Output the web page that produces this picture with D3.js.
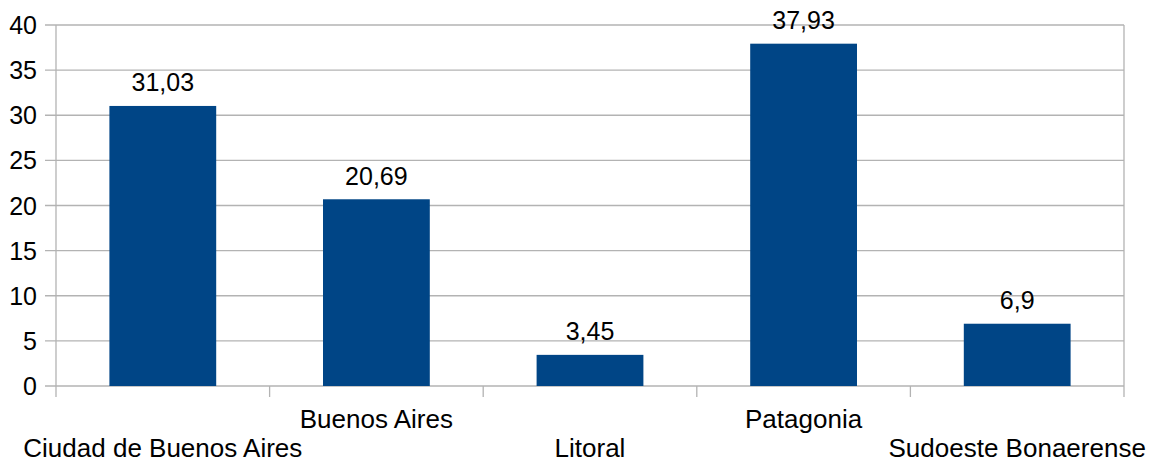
<!DOCTYPE html>
<html>
<head>
<meta charset="utf-8">
<script src="https://cdn.jsdelivr.net/npm/d3@7"></script>
<style>
  html, body { margin: 0; padding: 0; background: #fff; }
  svg text { font-family: "Liberation Sans", Arial, sans-serif; fill: #000; }
</style>
</head>
<body>
<svg id="chart" width="1149" height="463"></svg>
<script>
const categories = ["Ciudad de Buenos Aires", "Buenos Aires", "Litoral", "Patagonia", "Sudoeste Bonaerense"];
const values = [31.03, 20.69, 3.45, 37.93, 6.9];
const valueLabels = ["31,03", "20,69", "3,45", "37,93", "6,9"];
const yTicks = [0, 5, 10, 15, 20, 25, 30, 35, 40];

(function () {
const svg = d3.select("#chart");
const mLeft = 56, mRight = 1124, mTop = 25, mBottom = 386;
const fontSize = 25;
const catFontSize = 26;

const x = d3.scaleBand().domain(categories).range([mLeft, mRight]).paddingInner(0.5).paddingOuter(0.25);
const xb = d3.scaleBand().domain(categories).range([mLeft, mRight]).padding(0);
const y = d3.scaleLinear().domain([0, 40]).range([mBottom, mTop]);

// gridlines
svg.append("g").selectAll("line").data(yTicks).join("line")
  .attr("x1", mLeft - 11).attr("x2", mRight)
  .attr("y1", d => y(d)).attr("y2", d => y(d))
  .attr("stroke", "#b3b3b3").attr("stroke-width", 1.3);

// left axis line
svg.append("line").attr("x1", mLeft).attr("x2", mLeft).attr("y1", mTop).attr("y2", mBottom + 11)
  .attr("stroke", "#b3b3b3").attr("stroke-width", 1.3);
// right border
svg.append("line").attr("x1", mRight).attr("x2", mRight).attr("y1", mTop).attr("y2", mBottom + 11)
  .attr("stroke", "#b3b3b3").attr("stroke-width", 1.3);

// category ticks
svg.append("g").selectAll("line").data(categories.slice(1)).join("line")
  .attr("x1", d => xb(d)).attr("x2", d => xb(d))
  .attr("y1", mBottom).attr("y2", mBottom + 11)
  .attr("stroke", "#b3b3b3").attr("stroke-width", 1.3);

// y tick labels
svg.append("g").selectAll("text").data(yTicks).join("text")
  .attr("x", 37).attr("y", d => y(d))
  .attr("dy", "0.36em")
  .attr("text-anchor", "end")
  .attr("font-size", fontSize)
  .text(d => d);

// bars
svg.append("g").selectAll("rect").data(values).join("rect")
  .attr("x", (d, i) => x(categories[i]))
  .attr("width", x.bandwidth())
  .attr("y", d => y(d))
  .attr("height", d => y(0) - y(d))
  .attr("fill", "#004586");

// value labels
svg.append("g").selectAll("text").data(values).join("text")
  .attr("x", (d, i) => x(categories[i]) + x.bandwidth() / 2)
  .attr("y", d => y(d) - 14.5)
  .attr("text-anchor", "middle")
  .attr("font-size", fontSize)
  .text((d, i) => valueLabels[i]);

// category labels (staggered)
svg.append("g").selectAll("text").data(categories).join("text")
  .attr("x", d => xb(d) + xb.bandwidth() / 2)
  .attr("y", (d, i) => i % 2 === 0 ? 457 : 428)
  .attr("text-anchor", "middle")
  .attr("font-size", catFontSize)
  .text(d => d);
})();
</script>
</body>
</html>
